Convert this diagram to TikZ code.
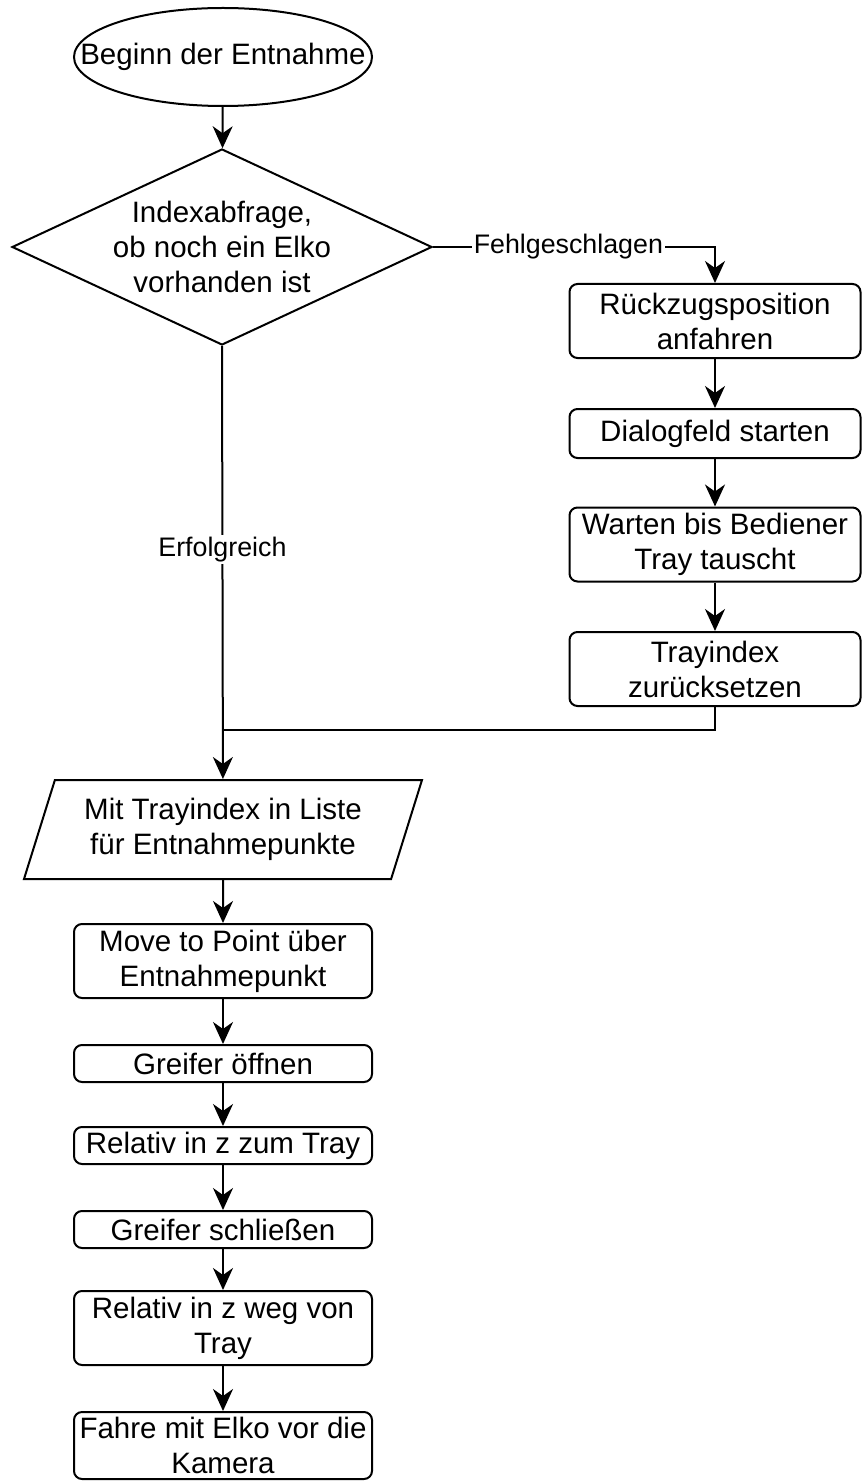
\documentclass[tikz,border=0pt]{standalone}
\usepackage{fontspec}
\setmainfont{Liberation Sans}
\usetikzlibrary{shapes.geometric}
\usetikzlibrary{arrows.meta}

\tikzset{
	every node/.style={font=\fontsize{14.75pt}{17.5pt}\selectfont},
	stepbox/.style={draw,line width=1pt,rounded corners=4pt,align=center,inner sep=0pt,
		minimum width=149pt,minimum height=37pt},
	termbox/.style={draw,line width=1pt,ellipse,inner sep=0pt,minimum width=149pt,minimum height=49pt},
	testbox/.style={draw,line width=1pt,diamond,aspect=2.14,align=center,inner sep=0pt,
		minimum width=210pt,minimum height=98pt},
	listbox/.style={draw,line width=1pt,trapezium,trapezium left angle=63.7,trapezium right angle=116.3,
		trapezium stretches body,align=center,inner sep=0pt,minimum width=199pt,minimum height=49.5pt},
	flow/.style={line width=1pt,-{Stealth[length=11pt,width=10pt,inset=3.5pt]}},
	edgetext/.style={fill=white,inner sep=1pt,font=\fontsize{13.4pt}{16pt}\selectfont},
}

\begin{document}
\begin{tikzpicture}[x=0.5pt,y=-0.5pt]
	\useasboundingbox (0,0) rectangle (861,1481);
	%%%%%%%%%%%%%%%
	\node[termbox] (start) at (223,57) {\makebox[0pt]{Beginn der Entnahme}};
	\node[testbox] (query) at (222,247) {Indexabfrage,\\ob noch ein Elko\\vorhanden ist};
	%%%%%%%%%%%%%%%
	\node[stepbox,minimum width=145.5pt] (retreat) at (715,321) {Rückzugsposition\\anfahren};
	\node[stepbox,minimum width=145.5pt,minimum height=24.5pt] (dialog) at (715,433.5) {Dialogfeld starten};
	\node[stepbox,minimum width=145.5pt] (wait) at (715,544.5) {Warten bis Bediener\\Tray tauscht};
	\node[stepbox,minimum width=145.5pt] (reset) at (715,669) {Trayindex\\zurücksetzen};
	\coordinate (merge) at (223,730);
	%%%%%%%%%%%%%%%
	\node[listbox] (list) at (223,829.5) {Mit Trayindex in Liste\\für Entnahmepunkte};
	\node[stepbox] (move) at (223,961) {Move to Point über\\Entnahmepunkt};
	\node[stepbox,minimum height=18.5pt] (open) at (223,1063.5) {Greifer öffnen};
	\node[stepbox,minimum height=18.5pt] (down) at (223,1145.5) {Relativ in z zum Tray};
	\node[stepbox,minimum height=18.5pt] (close) at (223,1229.5) {Greifer schließen};
	\node[stepbox] (up) at (223,1328) {Relativ in z weg von\\Tray};
	\node[stepbox,minimum height=33.5pt] (camera) at (223,1445.5) {Fahre mit Elko vor die\\Kamera};
	%%%%%%%%%%%%%%%
	\draw[flow] (start) -- (query);
	\draw[flow] (query.east) -| node[edgetext,pos=0.24] {Fehlgeschlagen} (retreat.north);
	\draw[flow] (retreat) -- (dialog);
	\draw[flow] (dialog) -- (wait);
	\draw[flow] (wait) -- (reset);
	\draw[line width=1pt] (reset.south) |- (merge);
	\draw[flow] (query.south) -- node[edgetext,pos=0.47] {Erfolgreich} (list);
	\draw[flow] (list) -- (move);
	\draw[flow] (move) -- (open);
	\draw[flow] (open) -- (down);
	\draw[flow] (down) -- (close);
	\draw[flow] (close) -- (up);
	\draw[flow] (up) -- (camera);
\end{tikzpicture}
\end{document}
